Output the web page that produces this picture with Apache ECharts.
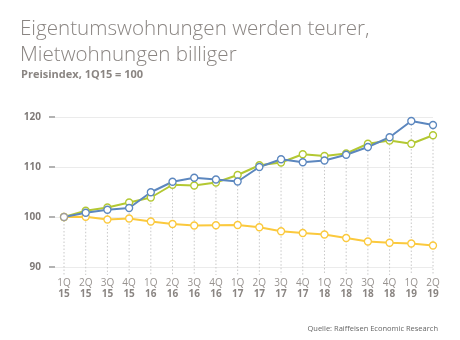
<!DOCTYPE html>
<html><head><meta charset="utf-8">
<script src="https://cdn.jsdelivr.net/npm/echarts@6/dist/echarts.min.js"></script>
<style>html,body{margin:0;padding:0;background:#fff}#c{width:460px;height:340px}</style>
</head><body><div id="c"></div>
<script>
const quarters = ['1Q','2Q','3Q','4Q','1Q','2Q','3Q','4Q','1Q','2Q','3Q','4Q','1Q','2Q','3Q','4Q','1Q','2Q'];
const years = ['15','15','15','15','16','16','16','16','17','17','17','17','18','18','18','18','19','19'];
const categories = quarters.map((q,i)=>q+'\n'+years[i]);
const eigentum = [100,100.85,101.45,101.8,104.95,107.05,107.85,107.5,107.1,110.0,111.55,110.95,111.3,112.45,114.0,115.95,119.2,118.4];
const haeuser = [100,101.25,101.9,102.9,103.9,106.45,106.3,106.9,108.4,110.35,110.9,112.55,112.2,112.7,114.65,115.3,114.65,116.35];
const mieten = [100,100.05,99.5,99.7,99.1,98.6,98.3,98.35,98.4,97.95,97.15,96.8,96.5,95.8,95.1,94.85,94.7,94.3];
const yTicks = [90,100,110,120];
const titleLines = ['Eigentumswohnungen werden teurer,','Mietwohnungen billiger'];
const subtitle = 'Preisindex, 1Q15 = 100';
const source = 'Quelle: Raiffeisen Economic Research';

const maxVals = categories.map((c,i)=>Math.max(eigentum[i],haeuser[i],mieten[i]));
const yMin = 90, yMax = 120;
const gridTop = 117, gridBottom = 340-267;

function lineSeries(name, data, color){
  return {
    name, type:'line', data, xAxisIndex:1, yAxisIndex:1,
    symbol:'circle', symbolSize:7,
    lineStyle:{color, width:2},
    itemStyle:{color:'#fff', borderColor:color, borderWidth:1.3},
    z:3
  };
}

const chart = echarts.init(document.getElementById('c'));
chart.setOption({
  animation:false,
  textStyle:{fontFamily:'"Open Sans", sans-serif'},
  title:[
    {text:titleLines.join('\n'), left:15, top:11,
     textStyle:{fontSize:20.6, fontWeight:300, color:'#8a8582', lineHeight:26, fontFamily:'"Open Sans", sans-serif'}},
    {text:subtitle, left:16, top:64,
     textStyle:{fontSize:11, fontWeight:'bold', color:'#8a8582', fontFamily:'"Open Sans", sans-serif'}},
    {text:source, right:17, top:320,
     textStyle:{fontSize:7.5, fontWeight:'normal', color:'#666', fontFamily:'"Open Sans", sans-serif'}}
  ],
  grid:[
    {left:55, right:27, top:gridTop, bottom:gridBottom},
    {left:64, right:27, top:gridTop, bottom:gridBottom}
  ],
  xAxis:[
    {type:'value', gridIndex:0, show:false, min:0, max:1},
    {type:'category', gridIndex:1, data:categories, boundaryGap:false,
     axisLine:{show:false}, axisTick:{show:false}, splitLine:{show:false},
     axisLabel:{interval:0, margin:11,
       formatter:(v)=>{const p=v.split('\n');return '{q|'+p[0]+'}\n{y|'+p[1]+'}';},
       rich:{q:{fontSize:10, color:'#97928f', lineHeight:11, fontFamily:'"Open Sans", sans-serif'},
             y:{fontSize:10, fontWeight:'bold', color:'#8a8582', lineHeight:11, fontFamily:'"Open Sans", sans-serif'}}}}
  ],
  yAxis:[
    {type:'value', gridIndex:0, min:yMin, max:yMax, interval:10, offset:9,
     axisLine:{show:false},
     axisTick:{show:true, length:6, lineStyle:{color:'#999', width:1.5}},
     axisLabel:{margin:5, fontSize:10, fontWeight:'bold', color:'#7f7a78', fontFamily:'"Open Sans", sans-serif',
       formatter:(v)=>yTicks.includes(v)?String(v):''},
     splitLine:{show:true, lineStyle:{color:'#ebebeb', width:1}}},
    {type:'value', gridIndex:1, min:yMin, max:yMax, interval:10, show:false, splitLine:{show:false}}
  ],
  series:[
    {type:'custom', xAxisIndex:1, yAxisIndex:1, data:maxVals.map((v,i)=>[i,v]), z:1, silent:true, clip:false,
     renderItem:(params, api)=>{
       const p1 = api.coord([api.value(0), api.value(1)]);
       const p2 = api.coord([api.value(0), yMin]);
       return {type:'line', shape:{x1:p1[0], y1:p1[1], x2:p2[0], y2:p2[1]+8},
         style:{stroke:'#c8c8c8', lineWidth:1, lineDash:[1.5,2]}};
     }},
    lineSeries('Mietwohnungen', mieten, '#fbc93d'),
    lineSeries('Häuser', haeuser, '#b3c832'),
    lineSeries('Eigentumswohnungen', eigentum.map((v,i)=>i===0?{value:v, itemStyle:{borderColor:'#a09c9a'}}:v), '#5c87bf')
  ]
});
</script></body></html>
